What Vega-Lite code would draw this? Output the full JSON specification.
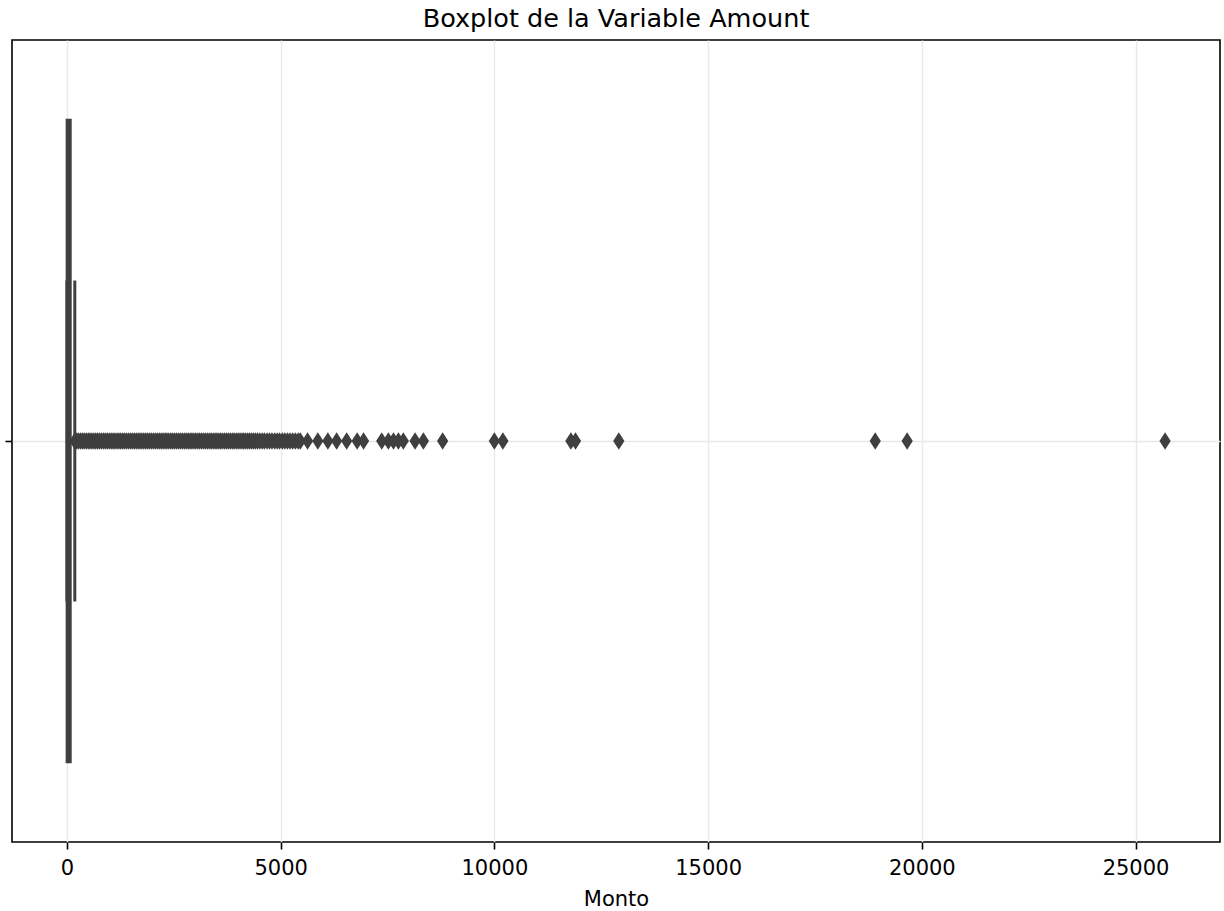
{
  "$schema": "https://vega.github.io/schema/vega-lite/v6.json",
  "width": 1208,
  "height": 802,
  "autosize": "none",
  "padding": {"left": 12, "top": 40, "right": 4, "bottom": 69},
  "background": "white",
  "title": {
    "text": "Boxplot de la Variable Amount",
    "font": "DejaVu Sans",
    "fontSize": 25.5,
    "fontWeight": "normal",
    "color": "#000000",
    "anchor": "middle",
    "frame": "group",
    "baseline": "alphabetic",
    "offset": 12,
    "dy": 24
  },
  "config": {
    "view": {"stroke": "#000000", "strokeWidth": 1.6},
    "axis": {
      "labelFont": "DejaVu Sans",
      "titleFont": "DejaVu Sans",
      "labelColor": "#000000",
      "titleColor": "#000000",
      "tickColor": "#000000",
      "gridColor": "#e8e8e8",
      "gridWidth": 1.4,
      "domain": false
    }
  },
  "datasets": {
    "summary": [{"q1": 5.6, "median": 22.0, "q3": 77.165, "lo": 0, "hi": 184.51}],
    "outliers": [
      {"amount": 186}, {"amount": 230}, {"amount": 271}, {"amount": 318}, {"amount": 362}, {"amount": 405}, {"amount": 452}, {"amount": 498}, {"amount": 540}, {"amount": 585},
      {"amount": 631}, {"amount": 676}, {"amount": 720}, {"amount": 764}, {"amount": 811}, {"amount": 857}, {"amount": 900}, {"amount": 944}, {"amount": 990}, {"amount": 1035},
      {"amount": 1080}, {"amount": 1124}, {"amount": 1170}, {"amount": 1216}, {"amount": 1260}, {"amount": 1305}, {"amount": 1349}, {"amount": 1395}, {"amount": 1440}, {"amount": 1486},
      {"amount": 1530}, {"amount": 1575}, {"amount": 1621}, {"amount": 1666}, {"amount": 1710}, {"amount": 1755}, {"amount": 1800}, {"amount": 1846}, {"amount": 1890}, {"amount": 1935},
      {"amount": 1981}, {"amount": 2025}, {"amount": 2070}, {"amount": 2116}, {"amount": 2160}, {"amount": 2205}, {"amount": 2251}, {"amount": 2296}, {"amount": 2340}, {"amount": 2385},
      {"amount": 2431}, {"amount": 2475}, {"amount": 2520}, {"amount": 2566}, {"amount": 2610}, {"amount": 2655}, {"amount": 2700}, {"amount": 2746}, {"amount": 2790}, {"amount": 2836},
      {"amount": 2880}, {"amount": 2925}, {"amount": 2971}, {"amount": 3015}, {"amount": 3060}, {"amount": 3106}, {"amount": 3150}, {"amount": 3196}, {"amount": 3240}, {"amount": 3285},
      {"amount": 3331}, {"amount": 3375}, {"amount": 3420}, {"amount": 3466}, {"amount": 3510}, {"amount": 3556}, {"amount": 3600}, {"amount": 3645}, {"amount": 3691}, {"amount": 3735},
      {"amount": 3780}, {"amount": 3826}, {"amount": 3870}, {"amount": 3915}, {"amount": 3961}, {"amount": 4005}, {"amount": 4050}, {"amount": 4096}, {"amount": 4140}, {"amount": 4185},
      {"amount": 4231}, {"amount": 4275}, {"amount": 4320}, {"amount": 4366}, {"amount": 4410}, {"amount": 4458}, {"amount": 4512}, {"amount": 4570}, {"amount": 4621}, {"amount": 4683},
      {"amount": 4740}, {"amount": 4797}, {"amount": 4860}, {"amount": 4918}, {"amount": 4975}, {"amount": 5040}, {"amount": 5098}, {"amount": 5160}, {"amount": 5220}, {"amount": 5282},
      {"amount": 5345}, {"amount": 5410}, {"amount": 5460},
      {"amount": 5630}, {"amount": 5870}, {"amount": 6105}, {"amount": 6310}, {"amount": 6545}, {"amount": 6790}, {"amount": 6940},
      {"amount": 7365}, {"amount": 7520}, {"amount": 7640}, {"amount": 7755}, {"amount": 7870},
      {"amount": 8145}, {"amount": 8340}, {"amount": 8790},
      {"amount": 10000}, {"amount": 10199.44}, {"amount": 11789.84}, {"amount": 11898.09}, {"amount": 12910.93},
      {"amount": 18910}, {"amount": 19656.53}, {"amount": 25691.16}
    ]
  },
  "layer": [
    {
      "data": {"name": "summary"},
      "mark": {"type": "rect", "fill": "#3f3f3f", "stroke": "#3f3f3f", "strokeWidth": 3},
      "encoding": {
        "x": {
          "field": "q1", "type": "quantitative",
          "scale": {"domain": [-1284.56, 26975.72], "nice": false, "zero": false},
          "axis": {
            "values": [0, 5000, 10000, 15000, 20000, 25000],
            "format": "d",
            "title": "Monto",
            "labelFontSize": 21,
            "titleFontSize": 21,
            "titleFontWeight": "normal",
            "tickSize": 7,
            "tickWidth": 1.6,
            "labelPadding": 8,
            "titlePadding": 10,
            "grid": true
          }
        },
        "x2": {"field": "q3"},
        "y": {
          "datum": -0.4, "type": "quantitative",
          "scale": {"domain": [-0.5, 0.5], "nice": false, "zero": false},
          "axis": {
            "values": [0],
            "labels": false,
            "title": null,
            "tickSize": 7,
            "tickWidth": 1.6,
            "grid": true
          }
        },
        "y2": {"datum": 0.4}
      }
    },
    {
      "data": {"name": "summary"},
      "mark": {"type": "rule", "color": "#3f3f3f", "strokeWidth": 3},
      "encoding": {
        "x": {"field": "lo", "type": "quantitative"},
        "x2": {"field": "q1"},
        "y": {"datum": 0, "type": "quantitative"}
      }
    },
    {
      "data": {"name": "summary"},
      "mark": {"type": "rule", "color": "#3f3f3f", "strokeWidth": 3},
      "encoding": {
        "x": {"field": "q3", "type": "quantitative"},
        "x2": {"field": "hi"},
        "y": {"datum": 0, "type": "quantitative"}
      }
    },
    {
      "data": {"name": "summary"},
      "mark": {"type": "rule", "color": "#3f3f3f", "strokeWidth": 3},
      "encoding": {
        "x": {"field": "hi", "type": "quantitative"},
        "y": {"datum": -0.2, "type": "quantitative"},
        "y2": {"datum": 0.2}
      }
    },
    {
      "data": {"name": "summary"},
      "mark": {"type": "rule", "color": "#3f3f3f", "strokeWidth": 3},
      "encoding": {
        "x": {"field": "lo", "type": "quantitative"},
        "y": {"datum": -0.2, "type": "quantitative"},
        "y2": {"datum": 0.2}
      }
    },
    {
      "data": {"name": "summary"},
      "mark": {"type": "rule", "color": "#3f3f3f", "strokeWidth": 3},
      "encoding": {
        "x": {"field": "median", "type": "quantitative"},
        "y": {"datum": -0.4, "type": "quantitative"},
        "y2": {"datum": 0.4}
      }
    },
    {
      "data": {"name": "outliers"},
      "mark": {
        "type": "point",
        "shape": "M0,-1L0.65,0L0,1L-0.65,0Z",
        "filled": true,
        "fill": "#3f3f3f",
        "opacity": 1,
        "strokeWidth": 0,
        "size": 300
      },
      "encoding": {
        "x": {"field": "amount", "type": "quantitative"},
        "y": {"datum": 0, "type": "quantitative"}
      }
    }
  ]
}
